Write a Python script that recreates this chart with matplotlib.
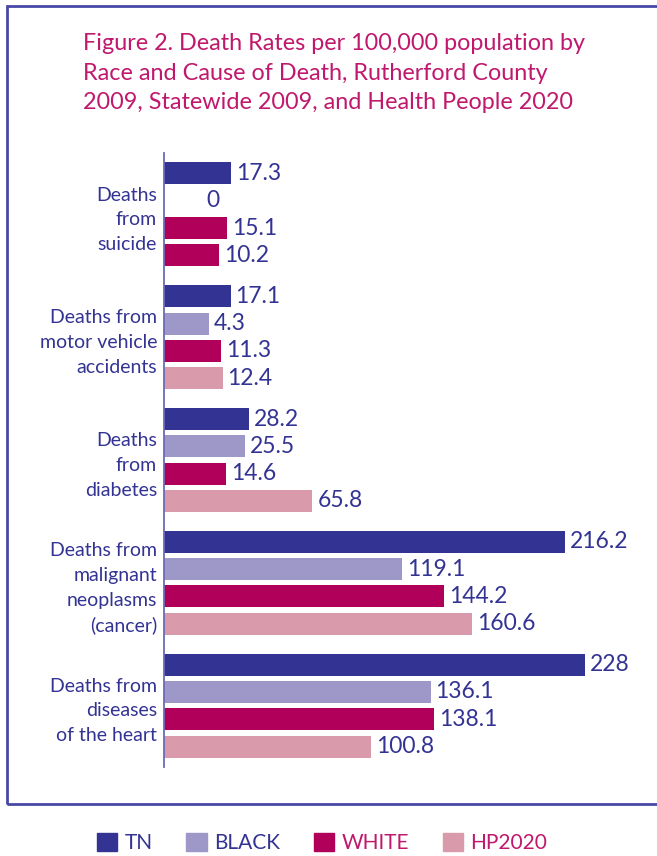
# -*- coding: utf-8 -*-
import matplotlib
matplotlib.use("Agg")
import matplotlib.pyplot as plt
from matplotlib.patches import Rectangle
import numpy as np

plt.rcParams['font.family'] = ['Lato', 'DejaVu Sans']

# data
causes = ["Deaths\nfrom\nsuicide",
          "Deaths from\nmotor vehicle\naccidents",
          "Deaths\nfrom\ndiabetes",
          "Deaths from\nmalignant\nneoplasms\n(cancer)",
          "Deaths from\ndiseases\nof the heart"]
series_names = ["TN", "BLACK", "WHITE", "HP2020"]
tn = [17.3, 17.1, 28.2, 216.2, 228]
black = [0, 4.3, 25.5, 119.1, 136.1]
white = [15.1, 11.3, 14.6, 144.2, 138.1]
hp2020 = [10.2, 12.4, 65.8, 160.6, 100.8]
value_labels = [["17.3", "0", "15.1", "10.2"],
                ["17.1", "4.3", "11.3", "12.4"],
                ["28.2", "25.5", "14.6", "65.8"],
                ["216.2", "119.1", "144.2", "160.6"],
                ["228", "136.1", "138.1", "100.8"]]

# styles
colors = ["#333393", "#9d98c8", "#b0005a", "#d99aab"]
# the reference draws the suicide HP2020 bar in the WHITE colour
hp_bar_colors = [colors[2], colors[3], colors[3], colors[3], colors[3]]
navy = "#333393"
crimson = "#c0186c"
axis_base = -22.5   # value axis of the original starts below zero

fig = plt.figure(figsize=(6.57, 8.56), dpi=100)
ax = fig.add_axes([164/657, 1-767/856, 476/657, 614/856])

all_series = [tn, black, white, hp2020]
slot = 27.3/122.75
bar_h = 22/122.75
group_pos = np.arange(len(causes))

for k, vals in enumerate(all_series):
    vals = np.array(vals, dtype=float)
    ypos = group_pos + (k - 1.5)*slot
    widths = np.where(vals > 0, vals - axis_base, 0)
    c = hp_bar_colors if k == 3 else colors[k]
    ax.barh(ypos, widths, left=axis_base, height=bar_h, color=c)
    for i, v in enumerate(vals):
        ax.annotate(value_labels[i][k], xy=(max(v, 0), ypos[i]),
                    xytext=(3.5, 0), textcoords="offset points",
                    ha="left", va="center", fontsize=16.5, color=navy)

ax.set_xlim(axis_base, axis_base + 476/1.681)
ax.set_ylim(len(causes) - 0.5, -0.5)
ax.set_yticks(group_pos)
ax.set_yticklabels(causes, fontsize=14, color=navy, ha="right",
                   linespacing=1.55)
ax.tick_params(axis="y", length=0, pad=5)
ax.get_xaxis().set_visible(False)
for spine in ["top", "right", "bottom"]:
    ax.spines[spine].set_visible(False)
ax.spines["left"].set_color("#6b6bb8")
ax.spines["left"].set_linewidth(1.3)

# outer frame
fig.add_artist(Rectangle((7/657, 1-804/856), 1.0, 798/856,
                         transform=fig.transFigure, fill=False,
                         edgecolor="#4848a8", linewidth=2, clip_on=False))

fig.text(83/657, 1-33/856,
         "Figure 2. Death Rates per 100,000 population by\n"
         "Race and Cause of Death, Rutherford County\n"
         "2009, Statewide 2009, and Health People 2020",
         ha="left", va="top", fontsize=16.8, color=crimson, linespacing=1.5)

# legend
handles = [Rectangle((0, 0), 1, 1, color=c) for c in colors]
leg = fig.legend(handles, series_names, loc="center", ncol=4,
                 bbox_to_anchor=(322/657, 1-843/856), frameon=False,
                 fontsize=15, handlelength=1.0, handleheight=1.0,
                 handletextpad=0.35, columnspacing=1.6)
for txt, c in zip(leg.get_texts(), [navy, navy, crimson, crimson]):
    txt.set_color(c)

fig.savefig("out.png", dpi=100)
